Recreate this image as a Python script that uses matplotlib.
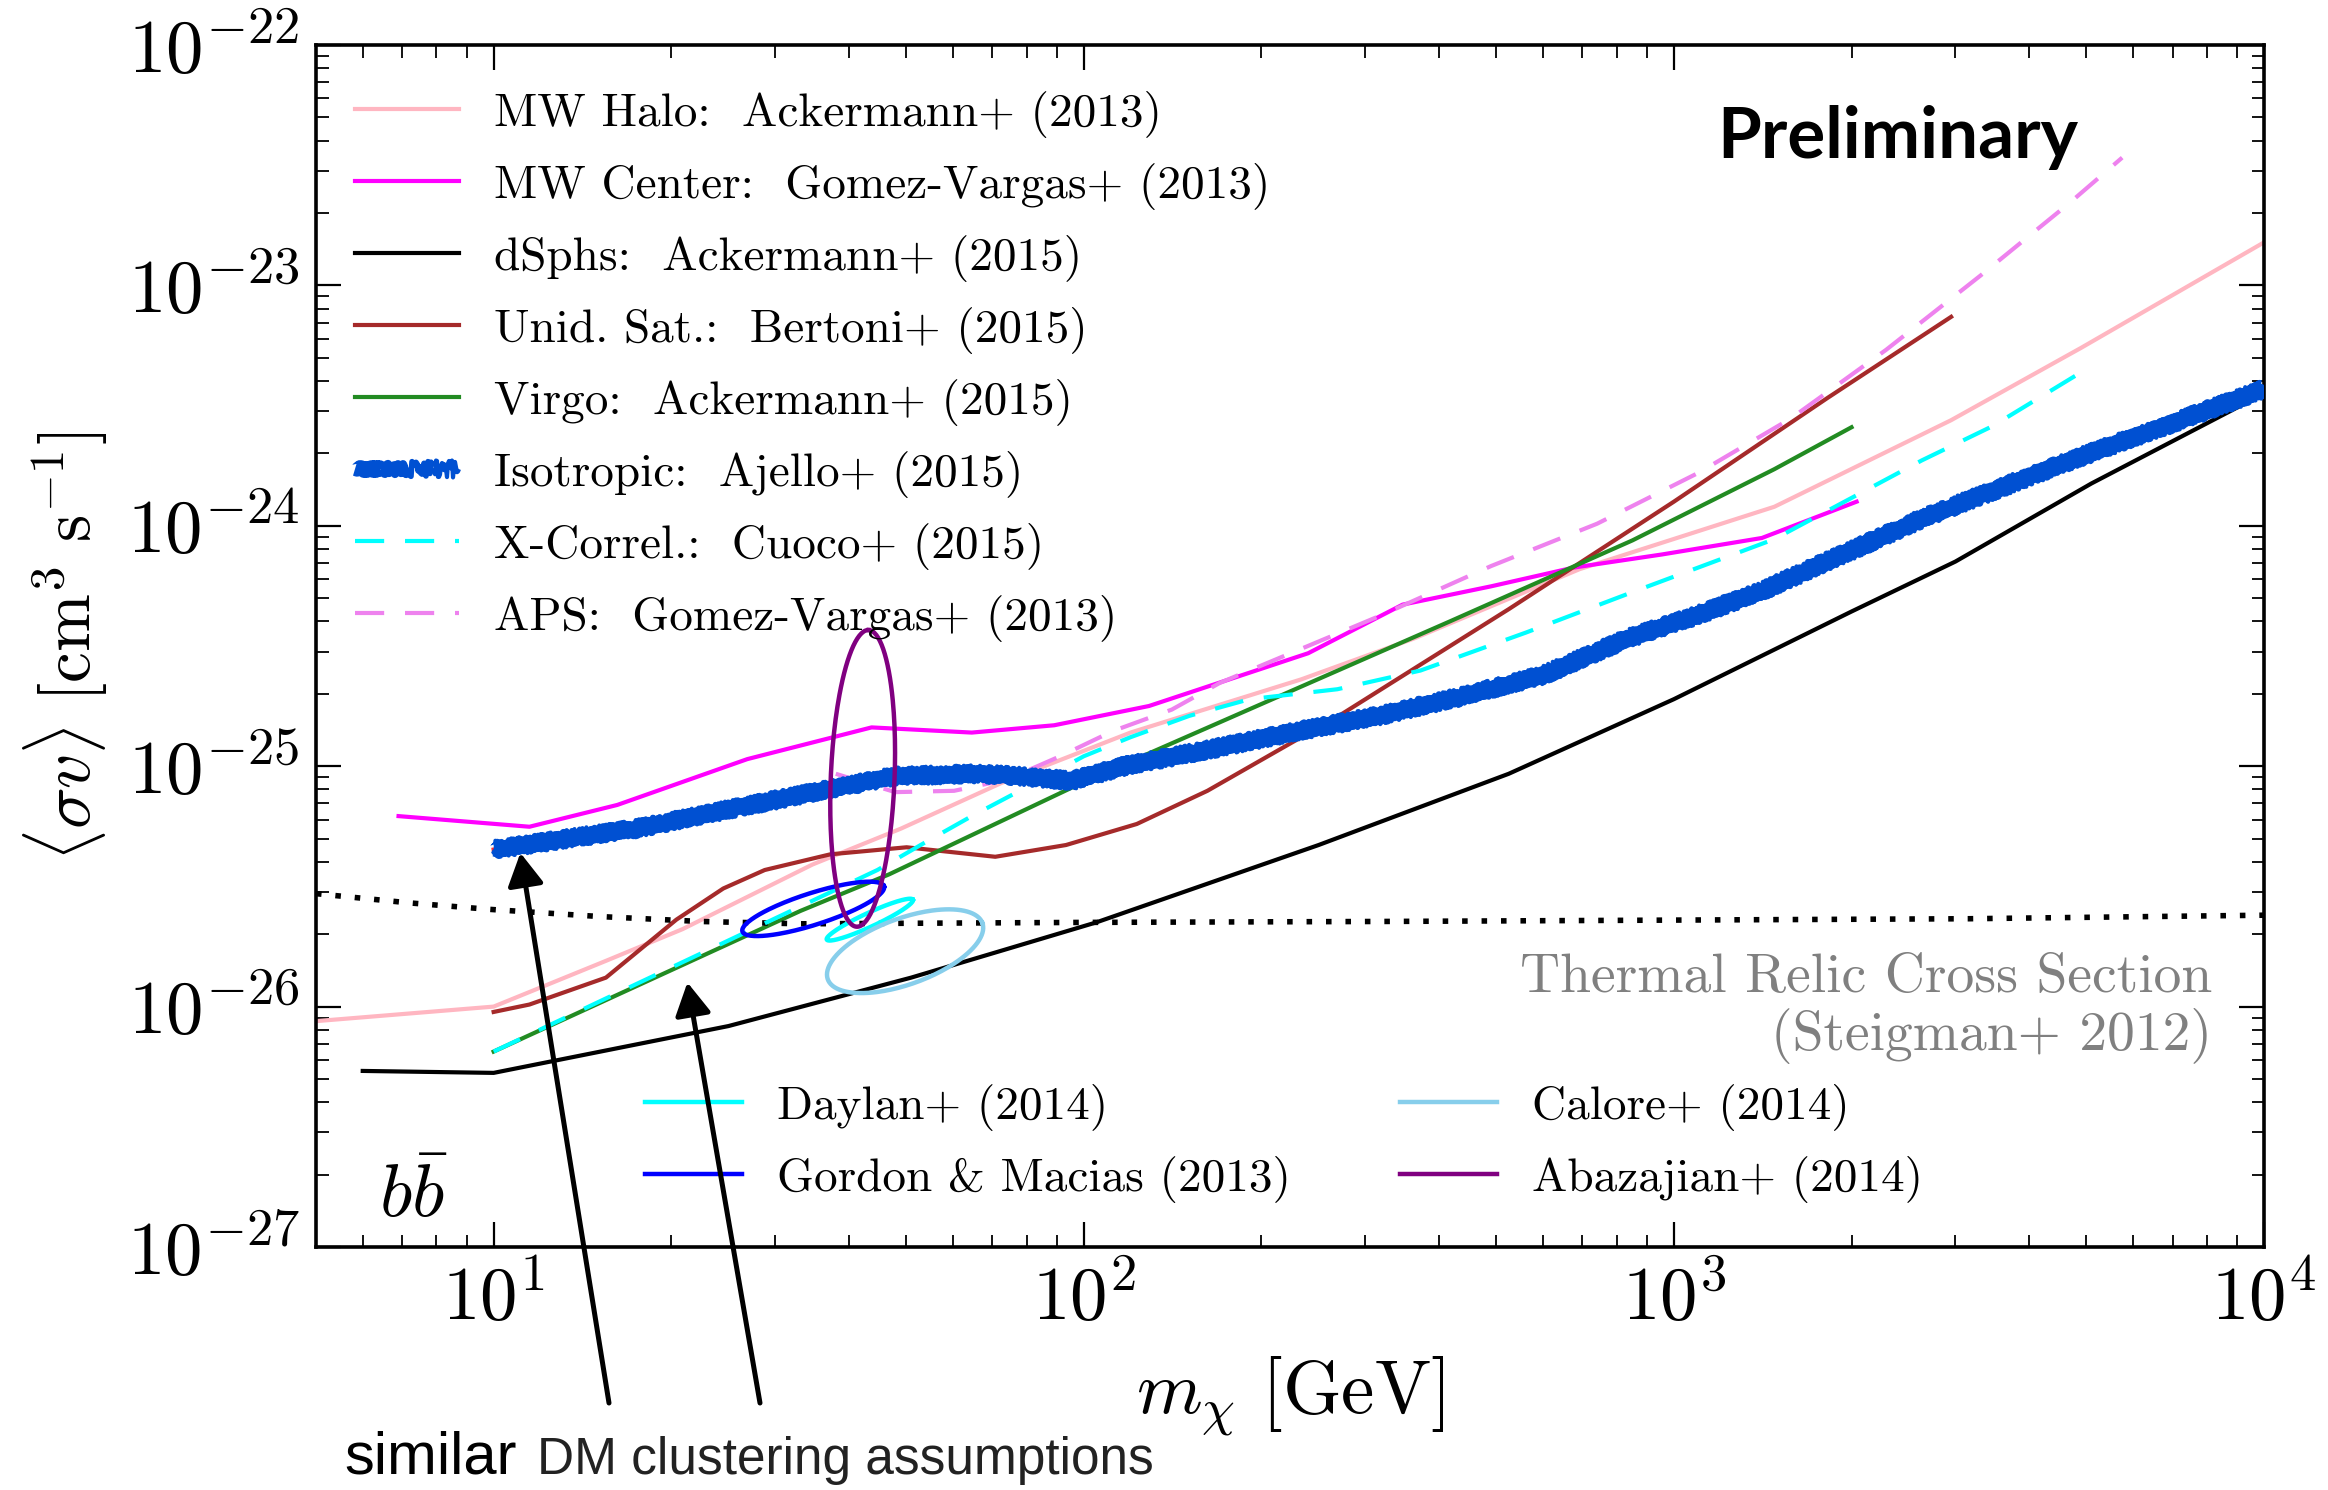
import numpy as np
import matplotlib
matplotlib.use("Agg")
import matplotlib.pyplot as plt
from matplotlib.legend_handler import HandlerTuple
from matplotlib.patches import ArrowStyle

# ---------------------------------------------------------------- limits (b bbar channel)
# DM mass [GeV] and <sigma v> [cm^3 s^-1]
mw_halo_m = [5.0, 10, 15.5, 20.9, 34.7, 49, 72.4, 120, 234, 363, 692, 1480, 2950, 4900, 10000]
mw_halo_sv = [8.7e-27, 1.0e-26, 1.55e-26, 2.1e-26, 3.9e-26, 5.5e-26, 8.5e-26, 1.38e-25,
              2.3e-25, 3.4e-25, 6.6e-25, 1.2e-24, 2.75e-24, 5.5e-24, 1.51e-23]

mw_center_m = [6.9, 11.5, 16.2, 26.9, 43.7, 64.6, 89.1, 129, 240, 347, 490, 676, 955, 1410, 2040]
mw_center_sv = [6.2e-26, 5.6e-26, 6.9e-26, 1.07e-25, 1.45e-25, 1.38e-25, 1.48e-25, 1.78e-25,
                2.95e-25, 4.7e-25, 5.6e-25, 6.7e-25, 7.6e-25, 8.9e-25, 1.26e-24]

dsph_m = [6.0, 10, 25, 51, 105, 250, 525, 1000, 2000, 3000, 5100, 10000]
dsph_sv = [5.4e-27, 5.3e-27, 8.3e-27, 1.32e-26, 2.24e-26, 4.7e-26, 9.3e-26, 1.9e-25,
           4.4e-25, 7.1e-25, 1.5e-24, 3.55e-24]

unid_m = [10, 11.5, 15.5, 20.4, 24.5, 28.8, 37.2, 50.1, 70.8, 93.3, 123, 162, 275, 525, 1000, 1820, 2950]
unid_sv = [9.5e-27, 1.02e-26, 1.32e-26, 2.3e-26, 3.1e-26, 3.7e-26, 4.3e-26, 4.6e-26, 4.2e-26,
           4.7e-26, 5.75e-26, 7.9e-26, 1.66e-25, 4.5e-25, 1.26e-24, 3.4e-24, 7.4e-24]

virgo_m = [10, 33.1, 46.8, 100, 219, 417, 851, 1480, 2000]
virgo_sv = [6.5e-27, 2.5e-26, 3.55e-26, 8.6e-26, 2.0e-25, 4.0e-25, 8.7e-25, 1.72e-24, 2.57e-24]

iso_m = [10, 17.4, 33.1, 47.9, 66.1, 77.6, 95.5, 117, 162, 224, 316, 437, 603, 832, 1072, 1413,
         2630, 4570, 10000]
iso_sv = [4.5e-26, 5.5e-26, 7.6e-26, 9.1e-26, 9.3e-26, 9.1e-26, 8.7e-26, 1.0e-25, 1.17e-25,
          1.38e-25, 1.62e-25, 1.95e-25, 2.4e-25, 3.39e-25, 4.17e-25, 5.37e-25, 1.07e-24,
          1.82e-24, 3.7e-24]

xcorr_m = [10, 44.7, 53.7, 64.6, 79.4, 100, 120, 151, 191, 269, 372, 562, 851, 1480, 2630, 3470, 5010]
xcorr_sv = [6.5e-27, 3.7e-26, 4.8e-26, 6.2e-26, 8.1e-26, 1.1e-25, 1.32e-25, 1.62e-25, 1.9e-25,
            2.09e-25, 2.5e-25, 3.6e-25, 5.3e-25, 8.8e-25, 1.87e-24, 2.6e-24, 4.5e-24]

aps_m = [38, 47.9, 60.3, 74.1, 91.2, 112, 141, 170, 316, 490, 741, 1100, 1580, 2290, 3310, 4680, 5750]
aps_sv = [9.3e-26, 7.8e-26, 7.9e-26, 8.8e-26, 1.1e-25, 1.4e-25, 1.72e-25, 2.22e-25, 4.2e-25,
          6.8e-25, 1.02e-24, 1.66e-24, 2.8e-24, 5.4e-24, 1.1e-23, 2.2e-23, 3.4e-23]

thermal_m = [5.0, 7.2, 9.8, 15.1, 22.4, 33.1, 100, 316, 1000, 3160, 10000]
thermal_sv = [2.95e-26, 2.7e-26, 2.54e-26, 2.37e-26, 2.26e-26, 2.21e-26, 2.24e-26, 2.26e-26,
              2.29e-26, 2.32e-26, 2.4e-26]

# Galactic-centre excess best-fit regions: centre (GeV, cm^3/s) and the two
# semi-axis vectors given in decades (d log10 m, d log10 sv)
daylan_center = (43.4, 2.30e-26)
daylan_axes = ((0.073, 0.083), (-0.005, 0.026))
gordon_center = (34.8, 2.55e-26)
gordon_axes = ((0.120, 0.094), (-0.008, 0.063))
calore_center = (49.8, 1.70e-26)
calore_axes = ((0.131, 0.117), (-0.019, 0.129))
abazajian_center = (42.2, 8.9e-26)
abazajian_axes = ((0.010, 0.617), (0.054, -0.005))

# arrow tips (GeV, cm^3/s)
arrow_tips = [(11.1, 4.36e-26), (21.3, 1.26e-26)]

# ---------------------------------------------------------------- style
plt.rcParams.update({
    "mathtext.fontset": "cm",
    "font.family": "serif",
    "font.serif": ["cmr10"],
    "axes.formatter.use_mathtext": True,
    "axes.unicode_minus": False,
})

W, H = 2328, 1490
fig = plt.figure(figsize=(W / 100, H / 100), dpi=100)
ax = fig.add_axes([316 / W, 1 - 1247 / H, (2264 - 316) / W, (1247 - 45) / H])
ax.set_xscale("log")
ax.set_yscale("log")
ax.set_xlim(5, 1e4)
ax.set_ylim(1e-27, 1e-22)

LW = 3.0
h_halo, = ax.plot(mw_halo_m, mw_halo_sv, color="#ffb6c1", lw=LW, zorder=2)
h_center, = ax.plot(mw_center_m, mw_center_sv, color="#ff00ff", lw=LW, zorder=2)
h_dsph, = ax.plot(dsph_m, dsph_sv, color="black", lw=LW, zorder=2)
h_unid, = ax.plot(unid_m, unid_sv, color="#a52a2a", lw=LW, zorder=2)
h_virgo, = ax.plot(virgo_m, virgo_sv, color="#228b22", lw=LW, zorder=2)

# isotropic limit: red curve covered by a rough blue marker stroke
ax.plot(iso_m, iso_sv, color="#ff2a2a", lw=3, zorder=3)
iso_layers = []
for lw, sk in [(10, (2.0, 7, 6)), (6, (5, 1.6, 18)), (4, (7.5, 1.0, 30)), (3, (8.5, 0.8, 40))]:
    ln, = ax.plot(iso_m, iso_sv, color="#0050d2", lw=lw, zorder=3,
                  solid_capstyle="butt")
    ln.set_sketch_params(*sk)
    iso_layers.append(ln)

h_xcorr, = ax.plot(xcorr_m, xcorr_sv, color="#00ffff", lw=LW, dashes=(7, 5), zorder=2.5)
h_aps, = ax.plot(aps_m, aps_sv, color="#ee82ee", lw=LW, dashes=(7, 5), zorder=2.5)

ax.plot(thermal_m, thermal_sv, color="black", lw=4, dashes=(1, 2.5), zorder=2)


def contour(center, axes_vec, color):
    t = np.linspace(0, 2 * np.pi, 200)
    (a1, a2), (b1, b2) = axes_vec
    lx = np.log10(center[0]) + a1 * np.cos(t) + b1 * np.sin(t)
    ly = np.log10(center[1]) + a2 * np.cos(t) + b2 * np.sin(t)
    ln, = ax.plot(10 ** lx, 10 ** ly, color=color, lw=3.2, zorder=4)
    return ln


h_daylan = contour(daylan_center, daylan_axes, "#00ffff")
h_gordon = contour(gordon_center, gordon_axes, "#0000ff")
h_calore = contour(calore_center, calore_axes, "#87ceeb")
h_abaz = contour(abazajian_center, abazajian_axes, "#800080")

# ---------------------------------------------------------------- axes
ax.set_xticks([10, 100, 1000, 10000])
ax.set_xticklabels([r"$10^{1}$", r"$10^{2}$", r"$10^{3}$", r"$10^{4}$"])
ax.set_yticks([1e-27, 1e-26, 1e-25, 1e-24, 1e-23, 1e-22])
ax.set_yticklabels([r"$10^{-27}$", r"$10^{-26}$", r"$10^{-25}$", r"$10^{-24}$",
                    r"$10^{-23}$", r"$10^{-22}$"])
ax.tick_params(which="both", direction="in", top=True, right=True)
ax.tick_params(which="major", length=18, width=1.6, labelsize=54)
ax.tick_params(axis="x", which="major", pad=13)
ax.tick_params(axis="y", which="major", pad=12)
ax.tick_params(which="minor", length=9, width=1.3)
for s in ax.spines.values():
    s.set_linewidth(2.6)

ax.set_xlabel(r"$m_\chi\ [\mathrm{GeV}]$", fontsize=54, labelpad=14)
ax.set_ylabel(r"$\langle\sigma v\rangle\ [\mathrm{cm}^3\ \mathrm{s}^{-1}]$", fontsize=50, labelpad=12)

# ---------------------------------------------------------------- legends
leg1 = ax.legend(
    [h_halo, h_center, h_dsph, h_unid, h_virgo, tuple(iso_layers), h_xcorr, h_aps],
    ["MW Halo:  Ackermann+ (2013)", "MW Center:  Gomez-Vargas+ (2013)",
     "dSphs:  Ackermann+ (2015)", "Unid. Sat.:  Bertoni+ (2015)",
     "Virgo:  Ackermann+ (2015)", "Isotropic:  Ajello+ (2015)",
     "X-Correl.:  Cuoco+ (2015)", "APS:  Gomez-Vargas+ (2013)"],
    handler_map={tuple: HandlerTuple(ndivide=None, pad=0)},
    loc="upper left", bbox_to_anchor=(0.020, 0.962), frameon=False,
    fontsize=34, handlelength=2.2, handletextpad=0.75, labelspacing=0.53,
    borderpad=0, borderaxespad=0)
ax.add_artist(leg1)

ax.legend([h_daylan, h_gordon, h_calore, h_abaz],
          ["Daylan+ (2014)", "Gordon & Macias (2013)", "Calore+ (2014)", "Abazajian+ (2014)"],
          ncol=2, loc="upper left", bbox_to_anchor=(0.169, 0.136), frameon=False,
          fontsize=34, handlelength=2.05, handletextpad=0.75, labelspacing=0.53,
          columnspacing=2.3, borderpad=0, borderaxespad=0)

# ---------------------------------------------------------------- annotations
fig.text(1898 / W, 1 - 158 / H, "Preliminary", family=["Lato", "DejaVu Sans"],
         weight="bold", fontsize=51, ha="center", va="baseline")
fig.text(2212 / W, 1 - 992 / H, "Thermal Relic Cross Section", color="#808080",
         fontsize=40, ha="right", va="baseline")
fig.text(2212 / W, 1 - 1050 / H, "(Steigman+ 2012)", color="#808080",
         fontsize=40, ha="right", va="baseline")
fig.text(413 / W, 1 - 1217 / H, r"$b\bar{b}$", fontsize=54, ha="center", va="baseline")

fig.text(344 / W, 1 - 1474 / H, "similar", family=["Liberation Sans", "DejaVu Sans"],
         fontsize=43, ha="left", va="baseline")
fig.text(537 / W, 1 - 1474 / H, "DM clustering assumptions",
         family=["Liberation Sans", "DejaVu Sans"], color="#222222",
         fontsize=37, ha="left", va="baseline")

arrow_tails_px = [(609, H - 1403), (760, H - 1403)]
for tip, tail in zip(arrow_tips, arrow_tails_px):
    ax.annotate("", xy=tip, xycoords="data", xytext=tail, textcoords="figure pixels",
                arrowprops=dict(arrowstyle=ArrowStyle("-|>", head_length=0.9, head_width=0.5),
                                color="black", lw=3.6, mutation_scale=22,
                                shrinkA=0, shrinkB=0),
                annotation_clip=False, zorder=6)

fig.savefig("out.png", dpi=100)
